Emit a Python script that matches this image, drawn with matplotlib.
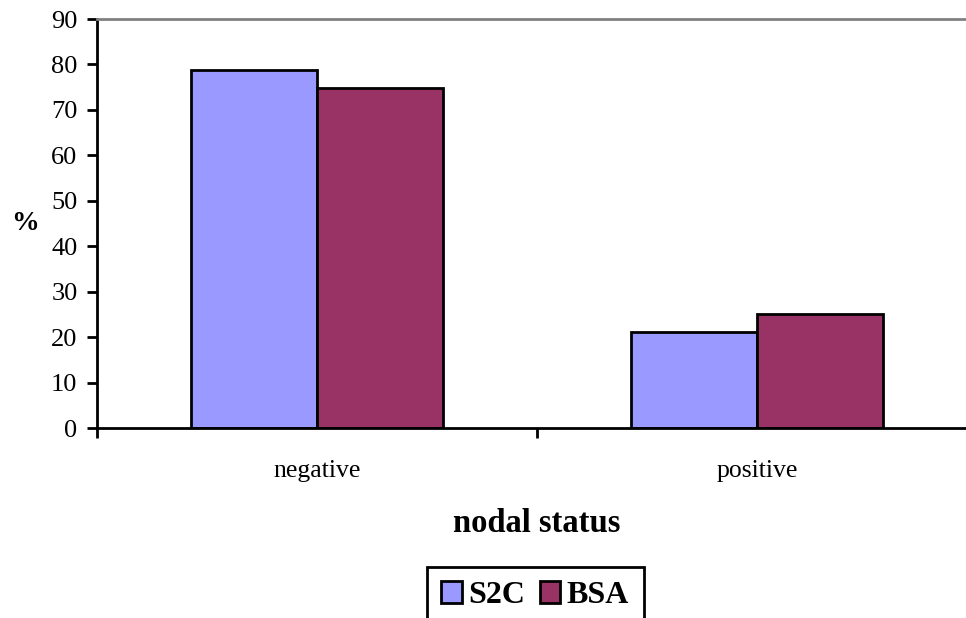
import matplotlib.pyplot as plt
import numpy as np

plt.rcParams['font.family'] = ['Liberation Serif', 'DejaVu Serif']

# percentage of patients per nodal status
categories = ['negative', 'positive']
s2c = [78.8, 21.2]
bsa = [74.8, 25.2]

fig = plt.figure(figsize=(9.66, 6.18), dpi=100)
# plot area runs a little past the right edge of the figure
ax = fig.add_axes([0.1004, 0.3074, 0.911, 0.6618])

xs = np.arange(len(categories))
width = 0.286
ax.bar(xs - width / 2, s2c, width, color='#9999ff', edgecolor='black', linewidth=2, label='S2C')
ax.bar(xs + width / 2, bsa, width, color='#993366', edgecolor='black', linewidth=2, label='BSA')

ax.set_xlim(-0.5, 1.5)
ax.set_ylim(0, 90)
ax.set_yticks(np.arange(0, 91, 10))
ax.tick_params(axis='y', direction='out', length=7, width=2, labelsize=19, pad=7)

# category ticks sit between the groups, labels sit under the groups
ax.set_xticks([-0.5, 0.5, 1.5])
ax.set_xticklabels([])
ax.tick_params(axis='x', direction='out', length=7, width=2)
for x, name in zip(xs, categories):
    ax.text(x, -0.105, name, transform=ax.get_xaxis_transform(), ha='center', va='center', fontsize=18.5)

for side in ['left', 'bottom']:
    ax.spines[side].set_linewidth(2)
    ax.spines[side].set_color('black')
ax.spines['top'].set_color('#808080')
ax.spines['top'].set_linewidth(2)
ax.spines['right'].set_visible(False)

fig.text(537 / 966, 1 - 523 / 618, 'nodal status', ha='center', va='center', fontsize=23.5, fontweight='bold')
fig.text(25 / 966, 1 - 223 / 618, '%', ha='center', va='center', fontsize=20, fontweight='bold')

leg = fig.legend(loc='upper left', bbox_to_anchor=(427 / 966, 1 - 567 / 618), ncol=2,
                 frameon=True, fancybox=False, edgecolor='black', framealpha=1,
                 prop={'size': 23, 'weight': 'bold'}, handlelength=0.63, handleheight=0.65,
                 handletextpad=0.22, columnspacing=0.45, borderpad=0.45, borderaxespad=0)
leg.get_frame().set_linewidth(2)
for h in leg.legend_handles:
    h.set_linewidth(2)

fig.savefig('out.png', dpi=100)
